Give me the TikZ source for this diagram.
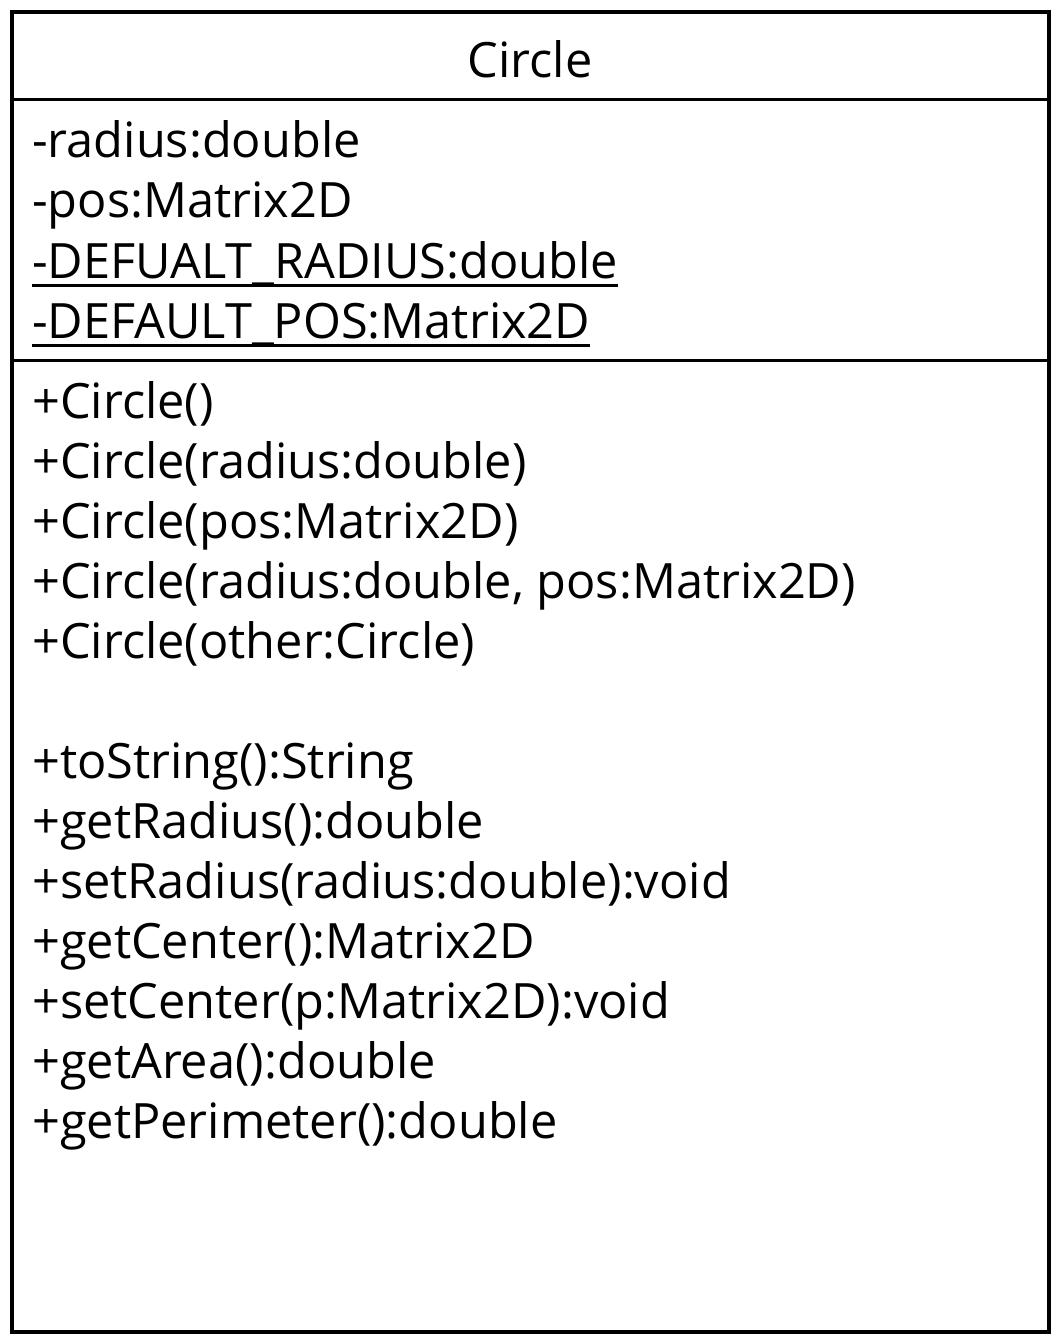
\documentclass[tikz,border=0pt]{standalone}
\usepackage{fontspec}
\setmainfont{Open Sans}
\begin{document}
\begin{tikzpicture}[x=1pt,y=-1pt,
  txt/.style={anchor=base west,inner sep=0pt,font=\fontsize{48.7}{60}\selectfont},
  ttl/.style={anchor=base,inner sep=0pt,font=\fontsize{48.7}{60}\selectfont},
  frame/.style={draw=black,line width=3.5pt},
  sep/.style={draw=black,line width=3pt},
  uline/.style={draw=black,line width=3pt}]
\useasboundingbox (0,0) rectangle (1060,1340);
\draw[frame] (12,12) rectangle (1049,1332);
\coordinate (s1l) at (12,100); \coordinate (s1r) at (1049,100);
\coordinate (s2l) at (12,360); \coordinate (s2r) at (1049,360);
\draw[sep] (s1l) -- (s1r);
\draw[sep] (s2l) -- (s2r);
\node[ttl] (title) at (530,78) {Circle};
\node[txt] (a1) at (32,158) {-radius:double};
\node[txt] (a2) at (32,218) {-pos:Matrix2D};
\node[txt] (a3) at (32,278) {-DEFUALT\_RADIUS:double};
\node[txt] (a4) at (32,338) {-DEFAULT\_POS:Matrix2D};
\draw[uline] ([yshift=-7pt]a3.base west) -- ([yshift=-7pt]a3.base east);
\draw[uline] ([yshift=-7pt]a4.base west) -- ([yshift=-7pt]a4.base east);
\node[txt] (m1) at (32,418) {+Circle()};
\node[txt] (m2) at (32,478) {+Circle(radius:double)};
\node[txt] (m3) at (32,538) {+Circle(pos:Matrix2D)};
\node[txt] (m4) at (32,598) {+Circle(radius:double, pos:Matrix2D)};
\node[txt] (m5) at (32,658) {+Circle(other:Circle)};
\node[txt] (m6) at (32,778) {+toString():String};
\node[txt] (m7) at (32,838) {+getRadius():double};
\node[txt] (m8) at (32,898) {+setRadius(radius:double):void};
\node[txt] (m9) at (32,958) {+getCenter():Matrix2D};
\node[txt] (m10) at (32,1018) {+setCenter(p:Matrix2D):void};
\node[txt] (m11) at (32,1078) {+getArea():double};
\node[txt] (m12) at (32,1138) {+getPerimeter():double};
\end{tikzpicture}
\end{document}
